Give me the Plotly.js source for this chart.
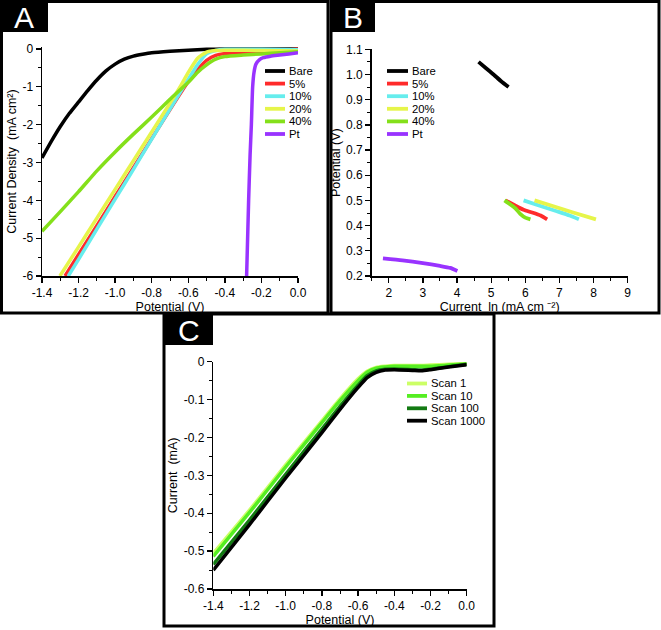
<!DOCTYPE html>
<html><head><meta charset="utf-8">
<script src="https://cdn.plot.ly/plotly-3.0.1.min.js"></script>
<style>html,body{margin:0;padding:0;background:#fff}#chart{width:661px;height:630px}</style>
</head><body><div id="chart"></div>
<script>
// ---------- Panel A: LSV, current density vs potential ----------
const seriesA = ['Bare', '5%', '10%', '20%', '40%', 'Pt'];
const colorsA = ['#000000', '#ff2b2b', '#66eded', '#e6f54a', '#84e01a', '#9933ff'];
const potA_bare = [-1.4,-1.35,-1.3,-1.25,-1.2,-1.15,-1.1,-1.05,-1.0,-0.95,-0.9,-0.85,-0.8,-0.7,-0.6,-0.5,-0.4,-0.2,0];
const curA_bare = [-2.88,-2.45,-2.05,-1.7,-1.4,-1.1,-0.82,-0.58,-0.4,-0.27,-0.19,-0.14,-0.1,-0.06,-0.03,-0.01,0,0,0];
const potA_5 = [-1.274,-1.2,-1.1,-1.0,-0.9,-0.8,-0.7,-0.6,-0.55,-0.5,-0.45,-0.4,-0.3,-0.2,-0.1,0];
const curA_5 = [-6,-5.43,-4.67,-3.9,-3.14,-2.37,-1.6,-0.86,-0.55,-0.3,-0.17,-0.12,-0.09,-0.07,-0.05,0];
const potA_10 = [-1.256,-1.2,-1.1,-1.0,-0.9,-0.8,-0.7,-0.6,-0.55,-0.5,-0.45,-0.4,-0.2,0];
const curA_10 = [-6,-5.56,-4.76,-3.97,-3.18,-2.38,-1.59,-0.8,-0.42,-0.13,-0.04,-0.01,-0.01,-0.02];
const potA_20 = [-1.302,-1.2,-1.1,-1.0,-0.9,-0.8,-0.7,-0.645,-0.6,-0.55,-0.5,-0.45,-0.4,-0.2,0];
const curA_20 = [-6,-5.23,-4.47,-3.71,-2.95,-2.19,-1.43,-1.0,-0.62,-0.25,-0.08,-0.04,-0.03,-0.04,-0.05];
const potA_40 = [-1.4,-1.3,-1.2,-1.1,-1.0,-0.9,-0.8,-0.7,-0.6,-0.55,-0.5,-0.45,-0.4,-0.3,-0.2,-0.1,0];
const curA_40 = [-4.82,-4.3,-3.77,-3.22,-2.72,-2.25,-1.8,-1.33,-0.88,-0.62,-0.42,-0.27,-0.2,-0.16,-0.13,-0.1,-0.07];
const potA_pt = [-0.281,-0.27,-0.262,-0.255,-0.248,-0.24,-0.23,-0.21,-0.19,-0.15,-0.1,-0.05,0];
const curA_pt = [-6,-4,-2.8,-2.0,-1.0,-0.6,-0.4,-0.28,-0.23,-0.19,-0.16,-0.13,-0.1];
const tickA_x_vals = [-1.4,-1.2,-1.0,-0.8,-0.6,-0.4,-0.2,0];
const tickA_x_text = ['-1.4','-1.2','-1.0','-0.8','-0.6','-0.4','-0.2','0.0'];
const tickA_y_vals = [0,-1,-2,-3,-4,-5,-6];
const tickA_y_text = ['0','-1','-2','-3','-4','-5','-6'];

// ---------- Panel B: Tafel plot ----------
const lnB_bare = [4.63,4.85,5.07,5.3,5.51];
const potB_bare = [1.05,1.025,1.0,0.972,0.95];
const lnB_5 = [5.42,5.7,5.95,6.2,6.45,6.64];
const potB_5 = [0.5,0.48,0.463,0.452,0.44,0.425];
const lnB_10 = [5.95,6.4,6.9,7.3,7.57];
const potB_10 = [0.5,0.48,0.458,0.44,0.425];
const lnB_20 = [6.27,6.8,7.4,8.07];
const potB_20 = [0.5,0.478,0.452,0.425];
const lnB_40 = [5.39,5.55,5.7,5.85,6.0,6.15];
const potB_40 = [0.5,0.485,0.47,0.447,0.432,0.425];
const lnB_pt = [1.83,2.4,3.0,3.5,3.8,4.01];
const potB_pt = [0.27,0.262,0.251,0.24,0.232,0.22];
const tickB_x_vals = [2,3,4,5,6,7,8,9];
const tickB_x_text = ['2','3','4','5','6','7','8','9'];
const tickB_y_vals = [0.2,0.3,0.4,0.5,0.6,0.7,0.8,0.9,1.0,1.1];
const tickB_y_text = ['0.2','0.3','0.4','0.5','0.6','0.7','0.8','0.9','1.0','1.1'];

// ---------- Panel C: stability scans ----------
const seriesC = ['Scan 1', 'Scan 10', 'Scan 100', 'Scan 1000'];
const colorsC = ['#ccff66', '#55ee22', '#137a13', '#000000'];
const potC = [-1.4,-1.2,-1.0,-0.8,-0.7,-0.6,-0.55,-0.5,-0.45,-0.4,-0.3,-0.25,-0.2,-0.1,0];
const curC_1 = [-0.506,-0.392,-0.272,-0.156,-0.098,-0.045,-0.025,-0.015,-0.012,-0.01,-0.01,-0.01,-0.009,-0.007,-0.005];
const curC_10 = [-0.514,-0.398,-0.278,-0.161,-0.103,-0.05,-0.028,-0.017,-0.014,-0.012,-0.012,-0.012,-0.012,-0.009,-0.006];
const curC_100 = [-0.535,-0.418,-0.297,-0.178,-0.118,-0.062,-0.037,-0.024,-0.02,-0.019,-0.021,-0.022,-0.02,-0.013,-0.007];
const curC_1000 = [-0.55,-0.43,-0.307,-0.187,-0.126,-0.068,-0.042,-0.028,-0.022,-0.021,-0.023,-0.024,-0.021,-0.014,-0.008];
const tickC_y_vals = [0,-0.1,-0.2,-0.3,-0.4,-0.5,-0.6];
const tickC_y_text = ['0','-0.1','-0.2','-0.3','-0.4','-0.5','-0.6'];

// ---------- layout helpers (pixel -> paper) ----------
const W = 661, H = 630;
const px = v => v / W;
const py = v => 1 - v / H;
const FONT = 'Liberation Sans, Arial, sans-serif';

const seriesAx = [potA_bare, potA_5, potA_10, potA_20, potA_40, potA_pt];
const seriesAy = [curA_bare, curA_5, curA_10, curA_20, curA_40, curA_pt];
const seriesBx = [lnB_bare, lnB_5, lnB_10, lnB_20, lnB_40, lnB_pt];
const seriesBy = [potB_bare, potB_5, potB_10, potB_20, potB_40, potB_pt];
const seriesCy = [curC_1, curC_10, curC_100, curC_1000];

const traces = [];
seriesA.forEach((n, i) => traces.push({x: seriesAx[i], y: seriesAy[i], name: n, xaxis: 'x', yaxis: 'y',
  mode: 'lines', line: {color: colorsA[i], width: 3.5, shape: 'spline', smoothing: 0.5}}));
seriesA.forEach((n, i) => traces.push({x: seriesBx[i], y: seriesBy[i], name: n, xaxis: 'x2', yaxis: 'y2',
  mode: 'lines', line: {color: colorsA[i], width: 3.8, shape: 'spline', smoothing: 0.5}}));
seriesC.forEach((n, i) => traces.push({x: potC, y: seriesCy[i], name: n, xaxis: 'x3', yaxis: 'y3',
  mode: 'lines', line: {color: colorsC[i], width: 3.5, shape: 'spline', smoothing: 0.5}}));

function axis(extra) {
  return Object.assign({
    showline: true, linecolor: '#000', linewidth: 1.5, showgrid: false, zeroline: false,
    ticks: 'outside', ticklen: 5, tickwidth: 1.3, tickcolor: '#000', tickmode: 'array',
    tickfont: {family: FONT, size: 12, color: '#000'}, fixedrange: true
  }, extra);
}
function ttl(text, standoff) {
  return {text: text, font: {family: FONT, size: 12.5, color: '#000'}, standoff: standoff};
}
const minorX = d => ({ticks: 'outside', ticklen: 3, tickwidth: 1, tickcolor: '#000', dtick: d, tick0: 0});

const layout = {
  width: W, height: H, margin: {l: 0, r: 0, t: 0, b: 0},
  paper_bgcolor: '#fff', plot_bgcolor: 'rgba(0,0,0,0)', showlegend: false,
  xaxis: axis({domain: [px(42), px(298)], range: [-1.4, 0], anchor: 'y',
    tickvals: tickA_x_vals, ticktext: tickA_x_text, minor: minorX(0.1), title: ttl('Potential (V)', 3)}),
  yaxis: axis({domain: [py(276), py(47.1)], range: [-6, 0.05], anchor: 'x',
    tickvals: tickA_y_vals, ticktext: tickA_y_text, minor: minorX(0.5),
    title: ttl('Current Density  (mA cm²)', 3)}),
  xaxis2: axis({domain: [px(371.7), px(627.7)], range: [1.5, 9], anchor: 'y2',
    tickvals: tickB_x_vals, ticktext: tickB_x_text, minor: minorX(0.5),
    title: ttl('Current  ln (mA cm ⁻²)', 3)}),
  yaxis2: axis({domain: [py(276), py(49.3)], range: [0.2, 1.1], anchor: 'x2',
    tickvals: tickB_y_vals, ticktext: tickB_y_text, minor: minorX(0.05), title: ttl('Potential (V)', 2)}),
  xaxis3: axis({domain: [px(213.3), px(466.7)], range: [-1.4, 0], anchor: 'y3',
    tickvals: tickA_x_vals, ticktext: tickA_x_text, minor: minorX(0.1), title: ttl('Potential (V)', 3)}),
  yaxis3: axis({domain: [py(589), py(361.7)], range: [-0.6, 0], anchor: 'x3',
    tickvals: tickC_y_vals, ticktext: tickC_y_text, minor: minorX(0.05), title: ttl('Current  (mA)', 3)}),
  shapes: [], annotations: []
};

// panel frames
const frames = [[1.5, 1.5, 328, 313], [331, 1.5, 659, 313], [164, 314, 494, 626]];
frames.forEach(f => layout.shapes.push({type: 'rect', xref: 'paper', yref: 'paper',
  x0: px(f[0]), x1: px(f[2]), y0: py(f[1]), y1: py(f[3]), line: {color: '#000', width: 3}}));
// panel letters
const letters = [['A', 0, 0, 48, 32], ['B', 330, 0, 375, 32], ['C', 164, 313, 213, 345]];
letters.forEach(l => {
  layout.shapes.push({type: 'rect', xref: 'paper', yref: 'paper', x0: px(l[1]), x1: px(l[3]),
    y0: py(l[2]), y1: py(l[4]), fillcolor: '#000', line: {width: 0}});
  layout.annotations.push({text: l[0], xref: 'paper', yref: 'paper', x: px((l[1] + l[3]) / 2),
    y: py((l[2] + l[4]) / 2 + 1), xanchor: 'center', yanchor: 'middle', showarrow: false,
    font: {family: FONT, size: 30, color: '#fff'}});
});
// legends (drawn as keys)
function legend(names, colors, x0, x1, xt, y0, step) {
  names.forEach((n, i) => {
    const y = y0 + i * step;
    layout.shapes.push({type: 'line', xref: 'paper', yref: 'paper', x0: px(x0), x1: px(x1),
      y0: py(y), y1: py(y), line: {color: colors[i], width: 3.8}});
    layout.annotations.push({text: n, xref: 'paper', yref: 'paper', x: px(xt), y: py(y),
      xanchor: 'left', yanchor: 'middle', showarrow: false, borderpad: 0,
      font: {family: FONT, size: 11.3, color: '#000'}});
  });
}
legend(seriesA, colorsA, 265, 285, 288, 71, 12.6);
legend(seriesA, colorsA, 387, 408, 411, 71, 12.6);
legend(seriesC, colorsC, 407, 427, 430, 383.5, 12.4);

Plotly.newPlot('chart', traces, layout, {staticPlot: true});
</script></body></html>
